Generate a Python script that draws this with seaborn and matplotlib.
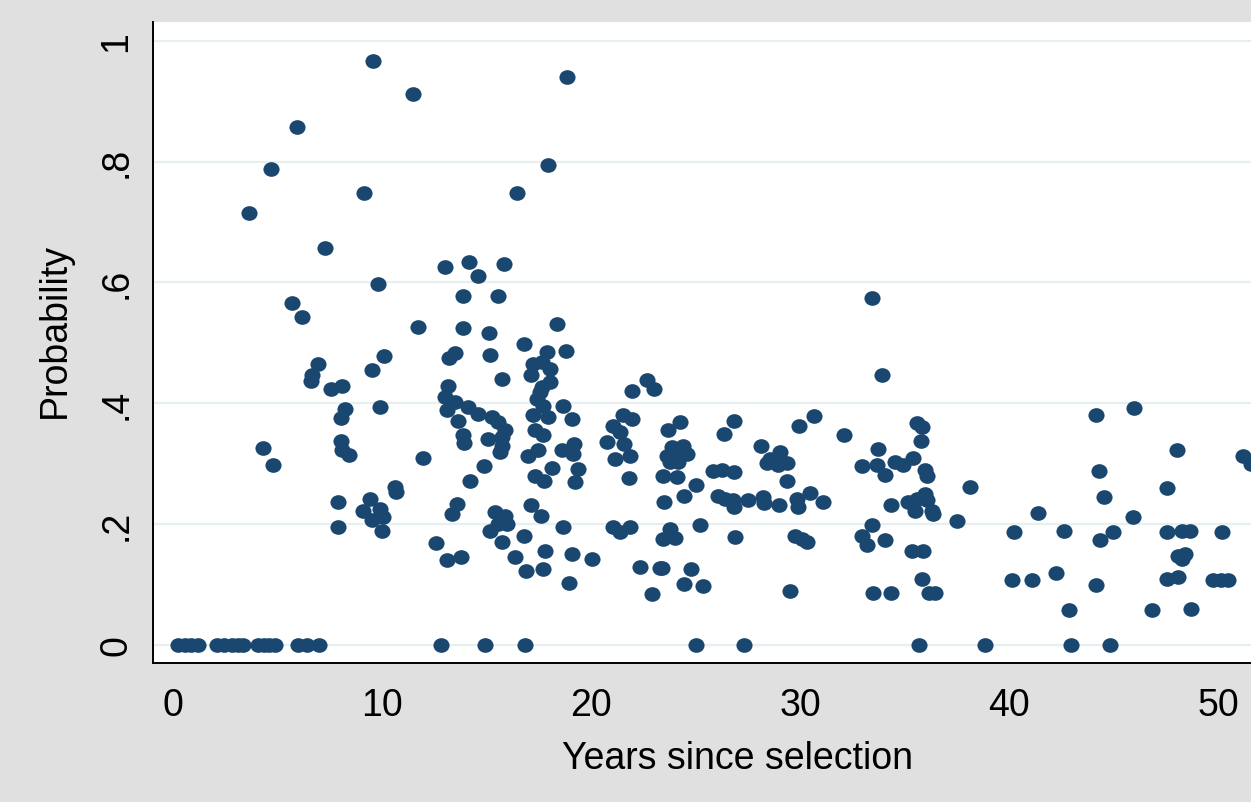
import matplotlib
matplotlib.use("Agg")
import matplotlib.pyplot as plt
from matplotlib.path import Path
from matplotlib.transforms import Affine2D
import pandas as pd
import seaborn as sns

# values
years_zero = [0.22, 0.55, 0.85, 1.18, 2.09, 2.45, 2.8, 3.1, 3.35, 4.05, 4.35, 4.6,
              4.88, 6.0, 6.4, 7.0, 12.8, 14.93, 16.84, 25.01, 27.3, 35.68, 38.84,
              42.97, 44.83]

years_early = [9.58, 11.48, 5.93, 4.69, 9.14, 3.64, 7.26, 9.81, 5.68, 6.17, 11.71,
               6.95, 6.67, 6.62, 10.1, 9.51, 7.56, 8.07, 8.23, 8.04, 9.9, 8.04, 8.07,
               8.44, 4.29, 4.77, 11.95, 7.88, 7.88, 10.61, 10.67, 9.43, 9.1, 9.9,
               10.06, 9.51, 10.0, 12.58, 13.1]
prob_early = [0.967, 0.912, 0.858, 0.788, 0.748, 0.715, 0.657, 0.597, 0.566, 0.543,
              0.526, 0.465, 0.446, 0.437, 0.478, 0.455, 0.424, 0.429, 0.391, 0.376,
              0.394, 0.337, 0.323, 0.315, 0.326, 0.297, 0.31, 0.236, 0.195, 0.261,
              0.253, 0.242, 0.222, 0.225, 0.211, 0.206, 0.188, 0.169, 0.14]

years_mid = [18.85, 17.94, 16.47, 13.03, 14.15, 14.61, 15.84, 13.89, 15.57, 13.89,
             15.12, 18.39, 16.81, 13.22, 13.49, 15.17, 17.88, 18.79, 17.24, 17.64,
             18.04, 17.11, 15.76, 18.04, 17.64, 17.56, 13.16, 13.01, 13.49, 13.09,
             14.13, 14.61, 15.25, 15.57, 15.89, 15.09, 15.76, 15.73, 15.65, 13.65,
             13.86, 13.92, 14.9, 14.21, 17.72, 17.24, 17.96, 18.67, 19.08, 17.4,
             17.32, 17.72, 17.48, 17.0, 18.12, 17.32, 17.74, 18.6, 19.19, 19.13,
             19.39, 19.23, 13.57, 13.37, 13.77, 15.41, 15.89, 16.0, 15.17, 15.73,
             15.57, 17.11, 17.59, 16.79, 18.67, 16.35, 17.8, 16.89, 17.69, 19.11,
             20.06, 18.95, 21.95, 22.66, 23.0, 21.07, 21.55, 21.95, 21.39, 20.75,
             21.15, 21.87, 21.6, 21.82, 21.07, 21.39, 21.87, 22.34, 23.3, 22.93]
prob_mid = [0.94, 0.795, 0.748, 0.626, 0.633, 0.611, 0.631, 0.578, 0.577, 0.525,
            0.517, 0.531, 0.498, 0.475, 0.483, 0.48, 0.485, 0.486, 0.465, 0.468,
            0.457, 0.446, 0.44, 0.435, 0.427, 0.418, 0.429, 0.41, 0.402, 0.388,
            0.394, 0.382, 0.377, 0.369, 0.355, 0.341, 0.344, 0.33, 0.319, 0.371,
            0.347, 0.334, 0.296, 0.272, 0.396, 0.38, 0.377, 0.396, 0.374, 0.407,
            0.355, 0.347, 0.322, 0.313, 0.293, 0.28, 0.271, 0.322, 0.333, 0.316,
            0.291, 0.269, 0.233, 0.217, 0.145, 0.22, 0.214, 0.2, 0.189, 0.17,
            0.2, 0.231, 0.214, 0.181, 0.195, 0.145, 0.155, 0.122, 0.125, 0.151,
            0.142, 0.103, 0.421, 0.438, 0.424, 0.363, 0.38, 0.374, 0.352, 0.336,
            0.308, 0.313, 0.333, 0.276, 0.195, 0.187, 0.195, 0.129, 0.127, 0.084]

years_late = [33.43, 24.26, 23.7, 26.84, 26.38, 30.67, 29.97, 32.12, 35.61, 35.85,
              35.8, 33.94, 33.75, 32.95, 33.67, 34.07, 34.55, 34.94, 35.42, 35.98,
              36.06, 28.13, 29.04, 28.56, 29.36, 28.4, 28.97, 29.36, 23.86, 24.42,
              23.62, 24.1, 24.58, 23.78, 24.18, 23.46, 24.1, 25.01, 25.85, 26.25,
              26.84, 24.45, 23.49, 26.09, 26.39, 26.8, 26.84, 27.53, 28.24, 28.27,
              29.0, 29.84, 29.92, 30.48, 31.12, 34.35, 35.18, 35.58, 35.98, 35.51,
              36.3, 36.34, 36.1, 37.5, 23.78, 23.46, 24.02, 25.22, 26.9, 29.76,
              30.08, 30.32, 33.46, 32.96, 33.2, 34.07, 35.34, 35.9, 23.41, 24.77,
              24.45, 25.37, 29.52, 33.51, 34.35, 35.82, 36.15, 36.47]
prob_late = [0.574, 0.369, 0.356, 0.371, 0.349, 0.379, 0.362, 0.348, 0.368, 0.36,
             0.338, 0.447, 0.325, 0.296, 0.298, 0.281, 0.302, 0.297, 0.309, 0.289,
             0.28, 0.33, 0.319, 0.308, 0.301, 0.301, 0.297, 0.271, 0.327, 0.33,
             0.313, 0.316, 0.316, 0.302, 0.302, 0.28, 0.278, 0.265, 0.287, 0.289,
             0.286, 0.247, 0.236, 0.247, 0.242, 0.239, 0.229, 0.24, 0.245, 0.235,
             0.232, 0.242, 0.228, 0.252, 0.236, 0.231, 0.237, 0.242, 0.25, 0.222,
             0.222, 0.217, 0.24, 0.205, 0.191, 0.175, 0.177, 0.198, 0.178, 0.181,
             0.176, 0.17, 0.198, 0.18, 0.166, 0.173, 0.155, 0.155, 0.127, 0.126,
             0.101, 0.097, 0.09, 0.086, 0.086, 0.109, 0.086, 0.086]

years_tail = [44.15, 45.98, 48.05, 51.21, 51.6, 38.13, 44.32, 47.55, 44.55, 45.95,
              41.4, 40.24, 42.62, 44.99, 44.35, 47.55, 48.26, 48.66, 50.18, 48.1,
              48.42, 48.26, 40.14, 41.09, 42.23, 44.16, 47.55, 48.07, 49.78, 50.13,
              50.49, 42.87, 46.83, 48.71]
prob_tail = [0.381, 0.392, 0.322, 0.312, 0.30, 0.262, 0.287, 0.259, 0.244, 0.212,
             0.219, 0.187, 0.189, 0.187, 0.173, 0.187, 0.188, 0.189, 0.187, 0.147,
             0.151, 0.142, 0.107, 0.108, 0.119, 0.099, 0.109, 0.112, 0.107, 0.107,
             0.107, 0.058, 0.058, 0.06]

x_ticks = [0, 10, 20, 30, 40, 50]
y_ticks = [0, 0.2, 0.4, 0.6, 0.8, 1.0]
y_tick_labels = ["0", ".2", ".4", ".6", ".8", "1"]

df = pd.DataFrame({
    "years": years_zero + years_early + years_mid + years_late + years_tail,
    "prob": [0.0] * len(years_zero) + prob_early + prob_mid + prob_late + prob_tail,
})

sns.set_theme(style="white")
plt.rcParams["font.family"] = ["Liberation Sans", "DejaVu Sans"]
plt.rcParams["text.color"] = "black"
plt.rcParams["axes.labelcolor"] = "black"

fig = plt.figure(figsize=(12.51, 8.03), dpi=100)
fig.patch.set_facecolor("#e0e0e0")
ax = fig.add_axes([153 / 1251, 139 / 803, 1098 / 1251, 641 / 803])
ax.set_facecolor("white")

# slightly wide dots, like the stretched stata markers
dot = Path.unit_circle().transformed(Affine2D().scale(1.1, 1.0))
sns.scatterplot(data=df, x="years", y="prob", ax=ax, marker=dot, s=135,
                color="#1a476f", linewidth=0, zorder=3)

ax.set_xlim(-0.96, 51.58)
ax.set_ylim(-0.03, 1.031)
ax.set_xticks(x_ticks)
ax.set_yticks(y_ticks)
ax.set_yticklabels(y_tick_labels, rotation=90, va="center")
ax.yaxis.grid(True, color="#e7eff1", linewidth=1.6)
ax.set_axisbelow(True)

for side in ["top", "right"]:
    ax.spines[side].set_visible(False)
for side in ["left", "bottom"]:
    ax.spines[side].set_color("black")
    ax.spines[side].set_linewidth(1.4)

ax.tick_params(axis="both", direction="out", length=8.5, width=1.0, color="black",
               labelsize=27, labelcolor="black")
ax.tick_params(axis="x", pad=9)
ax.tick_params(axis="y", pad=5)

ax.set_xlabel("Years since selection", fontsize=27)
ax.set_ylabel("Probability", fontsize=27)
# the original graph ran on past the right edge, so its title sits right of centre
ax.xaxis.set_label_coords(0.532, -0.12)
ax.yaxis.set_label_coords(-0.073, 0.52)

fig.savefig("out.png", dpi=100, facecolor=fig.get_facecolor())
